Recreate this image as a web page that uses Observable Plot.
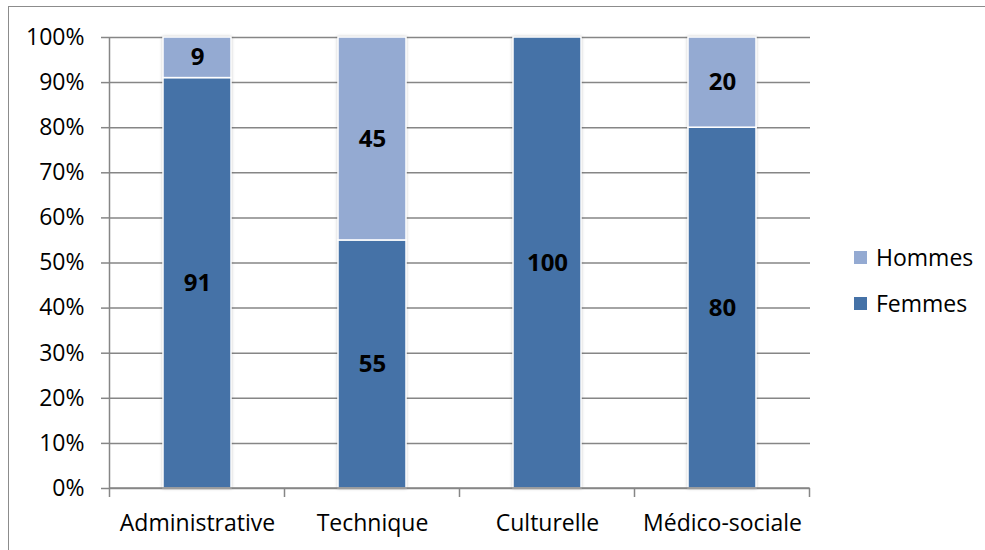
<!DOCTYPE html>
<html><head><meta charset="utf-8">
<script src="https://cdn.jsdelivr.net/npm/d3@7"></script>
<script src="https://cdn.jsdelivr.net/npm/@observablehq/plot@0.6"></script>
<style>
body{margin:0;background:#fff;font-family:"Open Sans",sans-serif;}
#wrap{position:relative;width:985px;height:550px;overflow:hidden;}
#frame{position:absolute;left:8px;top:6px;width:1000px;height:600px;border-left:1.5px solid #8c8c8c;border-top:1.5px solid #8c8c8c;pointer-events:none;}
.leg{position:absolute;left:854px;font-size:23px;line-height:23px;color:#000;display:flex;align-items:center;}
.leg span.sw{display:inline-block;width:13px;height:13px;margin-right:9px;}
#chart{position:absolute;left:0;top:0;}
.bars{filter:drop-shadow(0 0 1.5px rgba(0,0,0,0.22));}
</style>
</head><body>
<div id="wrap"><div id="chart"></div><div id="frame"></div><div id="legend"></div></div>
<script>
const categories = ["Administrative", "Technique", "Culturelle", "Médico-sociale"];
const femmes = [91, 55, 100, 80];
const hommes = [9, 45, 0, 20];
const yTicks = [0, 10, 20, 30, 40, 50, 60, 70, 80, 90, 100];
const seriesNames = ["Femmes", "Hommes"];
const seriesColors = ["#4572a7", "#94aad2"];

const rows = categories.flatMap((c, i) => [
  {cat: c, sexe: "Femmes", v: femmes[i]},
  {cat: c, sexe: "Hommes", v: hommes[i]}
]);

const chart = Plot.plot({
  width: 985, height: 550,
  marginLeft: 110, marginRight: 175, marginTop: 37, marginBottom: 62,
  x: {domain: categories, paddingInner: 0.61, paddingOuter: 0.305, label: null},
  y: {domain: [0, 100], label: null},
  color: {domain: seriesNames, range: seriesColors},
  style: {fontFamily: "'Open Sans', sans-serif", fontSize: "23px", color: "#000", background: "transparent"},
  marks: [
    Plot.gridY(yTicks, {stroke: "#868686", strokeOpacity: 1, strokeWidth: 1.5}),
    Plot.axisY(yTicks, {tickFormat: d => d + "%", tickSize: 9, tickPadding: 17, stroke: "#868686", strokeWidth: 1.5, fontSize: 23, label: null}),
    Plot.barY(rows, {x: "cat", y: "v", fill: "sexe", stroke: "white", strokeWidth: 1.5, className: "bars"}),
    Plot.text(rows.filter(d => d.v > 0), Plot.stackY({x: "cat", y: "v", z: "sexe", text: d => String(d.v), fontWeight: "bold", fontSize: 24, fill: "#000"})),
    Plot.axisX({tickSize: 0, tickPadding: 26, label: null, fontSize: 23})
  ]
});
document.getElementById("chart").appendChild(chart);

// category boundary ticks and y axis line, from the library's scales
const xs = chart.scale("x"), ys = chart.scale("y");
const step = xs.step;
const bounds = categories.map(c => xs.apply(c) + xs.bandwidth / 2 - step / 2);
bounds.push(bounds[bounds.length - 1] + step);
const g = d3.select(chart).append("g").attr("stroke", "#868686").attr("stroke-width", 1.5);
const y0 = ys.apply(0), y100 = ys.apply(100);
g.selectAll("line.b").data(bounds).join("line")
  .attr("x1", d => d).attr("x2", d => d).attr("y1", y0).attr("y2", y0 + 9);
g.append("line").attr("x1", bounds[0]).attr("x2", bounds[0]).attr("y1", y100).attr("y2", y0);
g.append("line").attr("x1", bounds[0]).attr("x2", bounds[bounds.length - 1]).attr("y1", y0).attr("y2", y0);

// legend
const legendItems = [["Hommes", seriesColors[1], 246], ["Femmes", seriesColors[0], 292]];
const leg = document.getElementById("legend");
legendItems.forEach(([name, col, top]) => {
  const d = document.createElement("div");
  d.className = "leg";
  d.style.top = top + "px";
  d.innerHTML = `<span class="sw" style="background:${col}"></span><span>${name}</span>`;
  leg.appendChild(d);
});
</script>
</body></html>
